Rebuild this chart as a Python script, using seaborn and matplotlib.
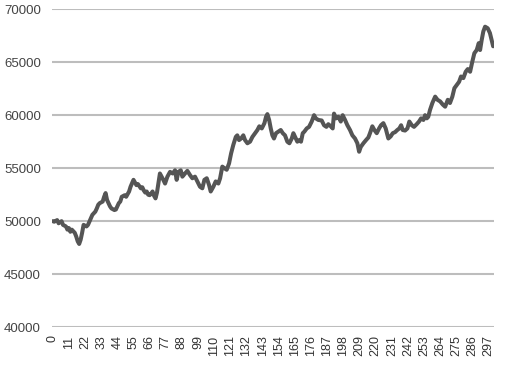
import pandas as pd
import matplotlib
matplotlib.use("Agg")
import matplotlib.pyplot as plt
import seaborn as sns

# values (x position, level)
day = [0, 1, 3, 4, 6, 7, 9, 10, 11, 12, 13, 15, 16, 17, 18, 19, 20, 21, 23, 24,
       26, 27, 28, 29, 30, 31, 32, 34, 35, 36, 37, 38, 39, 40, 42, 43, 45, 46, 47, 49,
       50, 52, 53, 55, 56, 57, 58, 59, 60, 61, 62, 63, 64, 65, 66, 67, 68, 69, 70, 71,
       72, 73, 75.3, 76.5, 78.1, 79.9, 81.7, 83.3, 84.4, 85.6, 87.2, 88.3, 90.1, 91.7, 93.5, 95.1, 96.9, 98.5, 100.3, 101.9,
       103.3, 104.9, 106.5, 107.6, 109.4, 111, 112.8, 114, 115.5, 116.9, 118.5, 120.1, 121.5, 123, 124.7, 125.7, 126.9, 128.3, 129.8, 131,
       132.6, 134.4, 136, 137.8, 139.4, 140.7, 142.4, 144.2, 145.3, 146.2, 147.4, 148.5, 149.6, 150.7, 152.1, 153.7, 155.3, 156.7, 158.2, 159.8,
       161.2, 162.8, 163.9, 165.1, 166.6, 168, 169.1, 170.3, 171.4, 173, 174.6, 176.4, 178, 179.2, 180.9, 183.2, 184.8, 186.4, 187.7, 189.4,
       190.7, 191.6, 193, 194.6, 196.2, 197.5, 199.1, 200.7, 202.5, 204.1, 205.9, 207.5, 208.7, 209.8, 211.6, 213.4, 215, 216.1, 217.7, 219.1,
       220.7, 222.3, 223.6, 225.2, 226.8, 228.6, 230.2, 231.6, 233.2, 234.7, 236.1, 237.3, 238.4, 240, 241.6, 242.9, 244.6, 246.1, 247.9, 249.5,
       250.9, 252.5, 253.6, 254.8, 255.8, 257, 258.6, 260.5, 262.1, 263.9, 265.7, 267.3, 269.1, 270.6, 272.2, 273.6, 275.2, 276.8, 278.1, 279.7,
       281.3, 282.7, 284.3, 285.8, 287.2, 288.8, 290.2, 291.1, 292.2, 293.3, 294.5, 296.3, 297.8, 299.5, 300]
level = [50000, 49950, 50100, 49800, 50000, 49650, 49500, 49200, 49350, 49000, 49200, 48900, 48550, 48100, 47850, 48250, 48900, 49650, 49500, 49650,
         50300, 50600, 50750, 50900, 51200, 51550, 51700, 51850, 52300, 52650, 52000, 51700, 51400, 51200, 51050, 51100, 51700, 51850, 52300, 52450,
         52300, 52800, 53250, 53900, 53650, 53400, 53500, 53300, 53100, 53200, 52900, 52700, 52800, 52500, 52450, 52600, 52800, 52400, 52150, 52700,
         53600, 54500, 53900, 53550, 54200, 54650, 54500, 54800, 53900, 54650, 54800, 54200, 54500, 54750, 54350, 54050, 54200, 53750, 53250, 53100,
         53900, 54050, 53400, 52800, 53250, 53750, 53550, 54050, 55150, 55000, 54850, 55450, 56400, 57200, 57950, 58100, 57650, 57800, 58100, 57650,
         57350, 57500, 57950, 58300, 58600, 58950, 58750, 59250, 59850, 60100, 59550, 58750, 58100, 57800, 58300, 58450, 58600, 58300, 58100, 57500,
         57350, 57800, 58300, 57950, 57500, 57650, 57500, 58300, 58450, 58750, 58900, 59400, 60000, 59700, 59550, 59500, 59050, 58900, 59150, 58950,
         58750, 60150, 59700, 59850, 59400, 60000, 59550, 59050, 58600, 58100, 57800, 57350, 56550, 57000, 57350, 57650, 57900, 58300, 58950, 58600,
         58300, 58750, 59050, 59250, 58750, 57800, 58000, 58300, 58400, 58600, 58750, 59050, 58600, 58550, 58750, 59400, 59050, 58900, 59150, 59400,
         59700, 59550, 60000, 59700, 59850, 60500, 61150, 61750, 61450, 61300, 61000, 60800, 61450, 61150, 61750, 62550, 62850, 63150, 63650, 63500,
         64100, 64350, 64100, 65050, 65850, 66150, 66800, 66150, 67100, 67900, 68350, 68200, 67750, 66800, 66500]

x_ticks = list(range(0, 298, 11))
y_ticks = [40000, 45000, 50000, 55000, 60000, 65000, 70000]

df = pd.DataFrame({"day": day, "level": level})

sns.set_style("white")
plt.rcParams["font.family"] = ["Liberation Sans", "DejaVu Sans"]

fig = plt.figure(figsize=(5.05, 3.68), dpi=100)
ax = fig.add_axes([0.103, 0.111, 0.875, 0.864])

sns.lineplot(data=df, x="day", y="level", ax=ax, color="#555555", linewidth=2.9)

ax.set_xlim(-0.5, 300.5)
ax.set_ylim(40000, 70000)
ax.set_xticks(x_ticks)
ax.set_xticklabels([str(t) for t in x_ticks], rotation=90, fontsize=9, color="#333333")
ax.set_yticks(y_ticks)
ax.set_yticklabels([str(t) for t in y_ticks], fontsize=9.5, color="#444444")
ax.tick_params(axis="both", length=0)
ax.tick_params(axis="y", pad=8)
ax.tick_params(axis="x", pad=6)
ax.yaxis.grid(True, color="#bdbdbd", linewidth=1.5)
ax.set_axisbelow(True)
ax.set_xlabel("")
ax.set_ylabel("")
sns.despine(ax=ax, left=True, bottom=True)

fig.savefig("out.png", dpi=100)
